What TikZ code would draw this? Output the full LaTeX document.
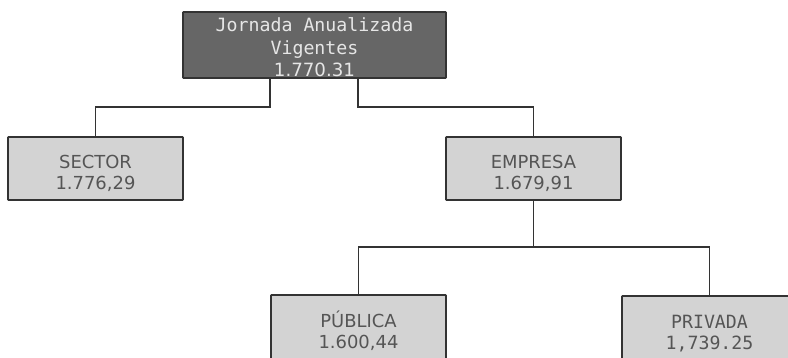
\documentclass[tikz,border=0pt]{standalone}
\usepackage{fontspec}
\newfontfamily\monofnt{DejaVu Sans Mono}
\newfontfamily\sansfnt{DejaVu Sans}
\usetikzlibrary{calc}
\definecolor{topfill}{HTML}{666666}
\definecolor{boxfill}{HTML}{D3D3D3}
\definecolor{edge}{HTML}{333333}
\definecolor{txtgray}{HTML}{555555}
\definecolor{toptxt}{HTML}{E6E6E6}
\newcommand{\padtop}[1]{\rule{0pt}{#1}}
\tikzset{
  box/.style={draw=edge, line width=1.9pt, fill=boxfill, text=txtgray,
    minimum width=175bp, minimum height=63bp, inner sep=0pt, align=center,
    rounded corners=0.8pt},
  topbox/.style={box, fill=topfill, text=toptxt, minimum width=263bp, minimum height=66bp},
  conn/.style={draw=edge, line width=1.4pt},
  sansT/.style={font=\sansfnt\fontsize{18}{21}\selectfont},
}
\begin{document}
\begin{tikzpicture}[x=1bp,y=-1bp]
\useasboundingbox (0,0) rectangle (788,357);
\node[topbox, font=\fontsize{18.3}{22.5}\selectfont] (top) at (314.5,45)
  {\padtop{19pt}{\monofnt Jornada Anualizada}\\{\monofnt Vigentes}\\{\sansfnt 1.770.31}};
\node[box, sansT] (sector) at (95.5,168.5) {\padtop{23pt}SECTOR\\1.776,29};
\node[box, sansT] (empresa) at (533.5,168.5) {\padtop{23pt}EMPRESA\\1.679,91};
\node[box, sansT, minimum height=67bp] (publica) at (358.5,328.5) {\padtop{21pt}PÚBLICA\\1.600,44};
\node[box, font=\monofnt\fontsize{18.3}{21}\selectfont, minimum height=67bp] (privada) at (709.5,329.5) {\padtop{22pt}PRIVADA\\1,739.25};
\coordinate (jL) at (270,107);
\coordinate (jR) at (358,107);
\coordinate (jB) at (533.5,247);
\draw[conn] (jL |- top.south) -- (jL) -| (sector.north);
\draw[conn] (jR |- top.south) -- (jR) -| (empresa.north);
\draw[conn] (empresa.south) -- (jB);
\draw[conn] (publica.north) |- (jB) -| (privada.north);
\end{tikzpicture}
\end{document}
